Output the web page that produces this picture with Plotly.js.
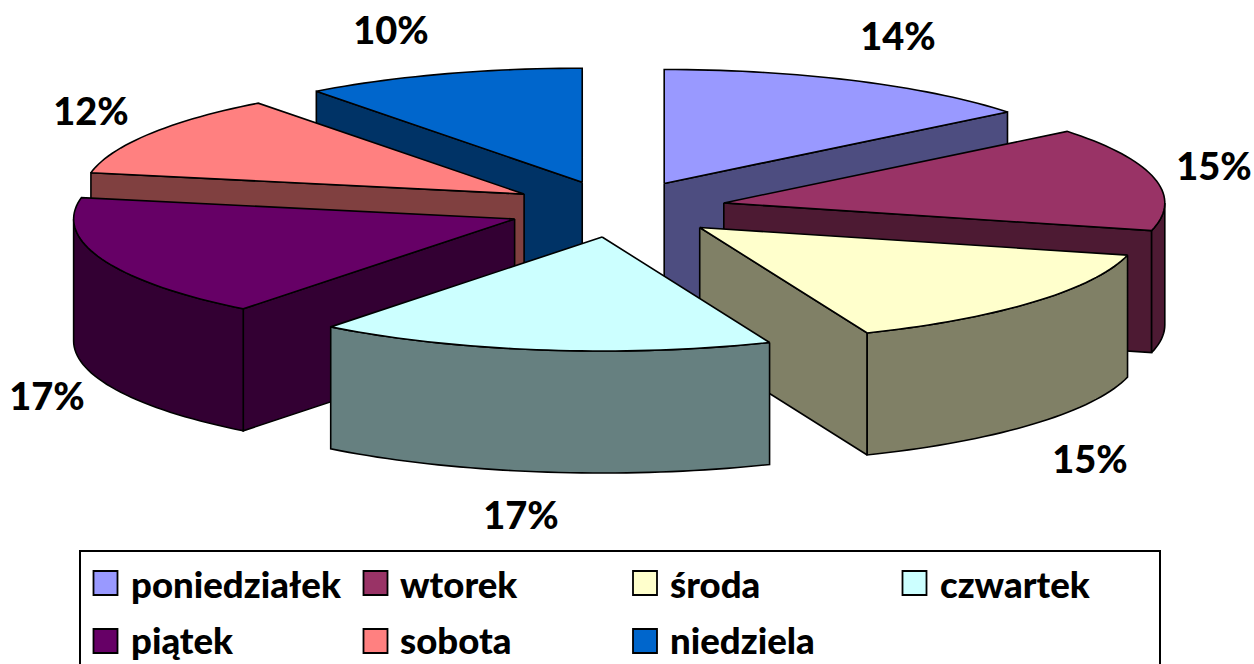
<!DOCTYPE html>
<html>
<head>
<meta charset="utf-8">
<script src="https://cdn.plot.ly/plotly-3.0.1.min.js"></script>
<style>html,body{margin:0;padding:0;background:#fff;overflow:hidden}#chart{width:1254px;height:664px}</style>
</head>
<body>
<div id="chart"></div>
<script>
const categories = ["poniedziałek","wtorek","środa","czwartek","piątek","sobota","niedziela"];
const values = [14.2,14.7,14.9,16.75,17.45,11.7,10.3];
const topColors = ["#9999FF","#993366","#FFFFCC","#CCFFFF","#660066","#FF8080","#0066CC"];
const sideColors = ["#4D4D80","#4D1A33","#808066","#668080","#330033","#804040","#003366"];
const labelX = [898,1214,1090,521,47,91,391];
const labelY = [40,170,463,519,400,115,34];
const legendSwatchX = [105.5,375.5,645,914.5,105.5,375.5,645];
const legendSwatchY = [583,583,583,583,641,641,641];
const legendTextX = [129,398,668,938,129,398,668];
const legendTextY = [584,584,584,584,640,640,640];

// Pie projection (pixels on the hidden axes)
const CX=617, CY=209, RX=441, RY=114, DEPTH=122, EXPLODE=0.248;
const rad=d=>d*Math.PI/180;
const total=values.reduce((a,b)=>a+b,0);
let cum=0;
const slices=values.map((v,i)=>{
  const start=cum/total*360; cum+=v; const end=cum/total*360; const mid=(start+end)/2;
  return {i,start,end,
    ax:CX+RX*EXPLODE*Math.sin(rad(mid)),
    ay:CY-RY*EXPLODE*Math.cos(rad(mid))};
});
function arc(s,a0,a1,dy){
  const n=Math.max(2,Math.ceil(Math.abs(a1-a0)/1.5)), xs=[], ys=[];
  for(let k=0;k<=n;k++){
    const a=a0+(a1-a0)*k/n;
    xs.push(s.ax+RX*Math.sin(rad(a)));
    ys.push(s.ay-RY*Math.cos(rad(a))+dy);
  }
  return [xs,ys];
}
function poly(xs,ys,fill,name){
  return {type:"scatter",mode:"lines",x:xs.concat(xs[0]),y:ys.concat(ys[0]),fill:"toself",fillcolor:fill,
    line:{color:"#000",width:1.6,simplify:false},name:name,showlegend:false,hoverinfo:"name"};
}
function radial(s,a,color,name){
  const px=s.ax+RX*Math.sin(rad(a)), py=s.ay-RY*Math.cos(rad(a));
  return poly([s.ax,px,px,s.ax],[s.ay,py,py+DEPTH,s.ay+DEPTH],color,name);
}
const traces=[];
slices.slice().sort((p,q)=>p.ay-q.ay).forEach(s=>{
  const nm=categories[s.i], side=sideColors[s.i], top=topColors[s.i];
  if(s.end>0&&s.end<180) traces.push(radial(s,s.end,side,nm));
  if(s.start>180&&s.start<360) traces.push(radial(s,s.start,side,nm));
  const a0=Math.max(s.start,90), a1=Math.min(s.end,270);
  if(a1>a0){
    const [tx,ty]=arc(s,a0,a1,0), [bx,by]=arc(s,a1,a0,DEPTH);
    traces.push(poly(tx.concat(bx),ty.concat(by),side,nm));
  }
  const [x,y]=arc(s,s.start,s.end,0);
  traces.push(poly([s.ax].concat(x),[s.ay].concat(y),top,nm));
});
const FONT="Lato, sans-serif";
traces.push({type:"scatter",mode:"text",x:labelX,y:labelY,text:values.map(v=>Math.round(v)+"%"),
  textposition:"middle center",textfont:{family:FONT,size:38,color:"#000",weight:900},showlegend:false,hoverinfo:"skip"});
traces.push({type:"scatter",mode:"markers",x:legendSwatchX,y:legendSwatchY,
  marker:{symbol:"square",size:24,color:topColors,line:{color:"#000",width:1.8}},showlegend:false,hoverinfo:"skip"});
const annotations=categories.map((c,i)=>({xref:"x",yref:"y",x:legendTextX[i],y:legendTextY[i],text:c,showarrow:false,
  xanchor:"left",yanchor:"middle",font:{family:FONT,size:36.6,color:"#000",weight:900}}));
const layout={width:1254,height:664,margin:{l:0,r:0,t:0,b:0},paper_bgcolor:"#fff",plot_bgcolor:"#fff",showlegend:false,
  xaxis:{range:[0,1254],visible:false,fixedrange:true},
  yaxis:{range:[664,0],visible:false,fixedrange:true},
  shapes:[{type:"rect",xref:"x",yref:"y",x0:80,x1:1160,y0:551,y1:680,line:{color:"#000",width:2},fillcolor:"rgba(0,0,0,0)"}],
  annotations};
Plotly.newPlot("chart",traces,layout,{displayModeBar:false,staticPlot:true});
</script>
</body>
</html>
